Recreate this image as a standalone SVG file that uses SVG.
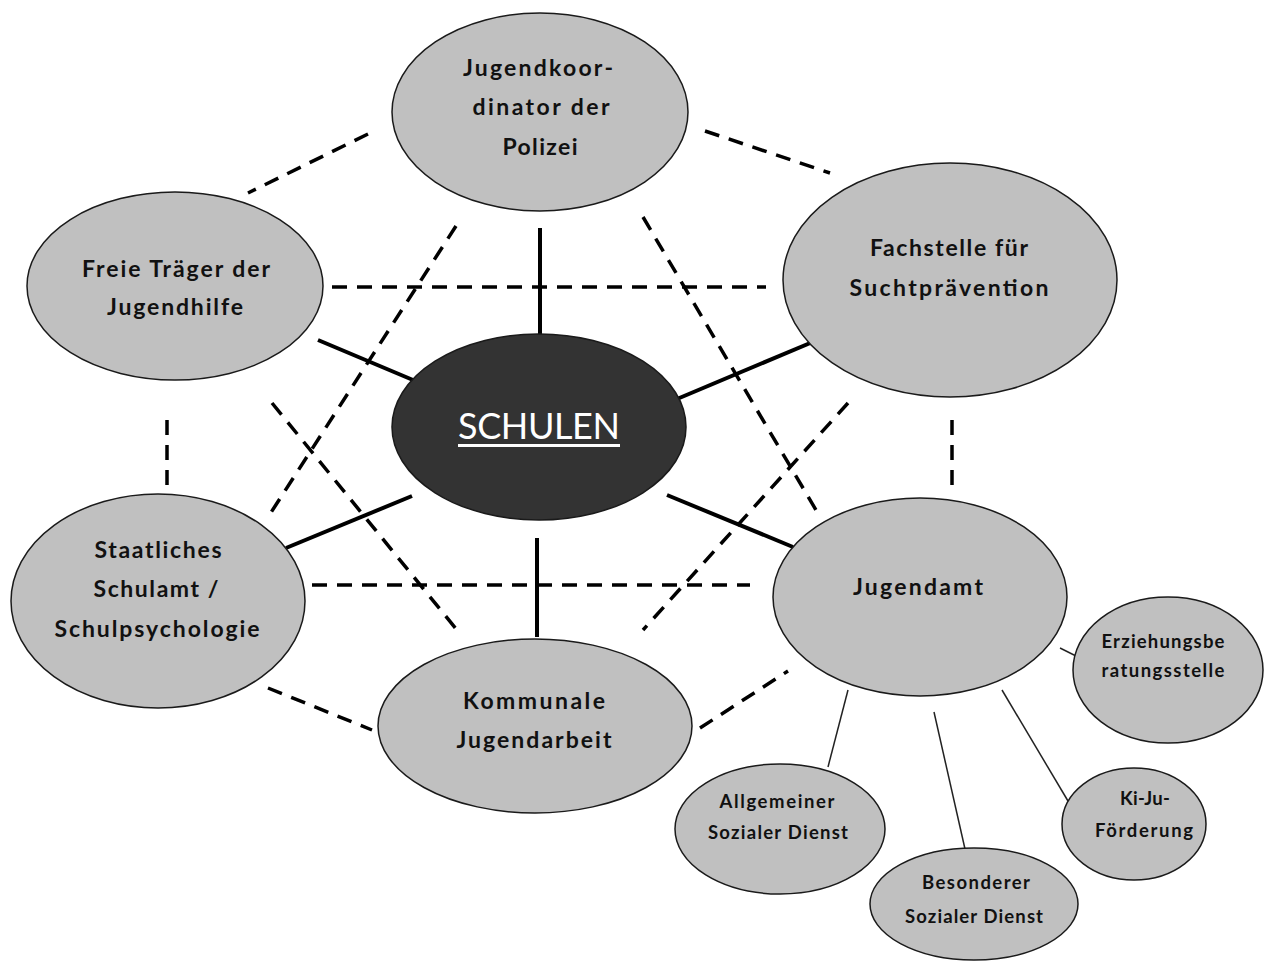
<svg xmlns="http://www.w3.org/2000/svg" width="1270" height="963" viewBox="0 0 1270 963">
  <style>
    .node { fill: #c0c0c0; stroke: #1a1a1a; stroke-width: 1.5; }
    .hub { fill: #333333; stroke: #1a1a1a; stroke-width: 1.5; }
    .lbl { font-family: Lato, "Liberation Sans", sans-serif; font-weight: bold; font-size: 23px; fill: #111; text-anchor: middle; }
    .sm { font-size: 18.5px; }
    .hubtxt { font-family: Lato, "Liberation Sans", sans-serif; font-size: 36px; fill: #ffffff; text-anchor: middle; }
    .solid { stroke: #000; stroke-width: 4; fill: none; }
    .dash { stroke: #000; stroke-width: 3.5; stroke-dasharray: 15 10; fill: none; }
    .thin { stroke: #222; stroke-width: 1.5; fill: none; }
  </style>
  <rect width="1270" height="963" fill="#ffffff"/>

  <!-- connectors -->
  <g id="connectors">
    <!-- solid spokes to the hub -->
    <line class="solid" x1="540" y1="228" x2="540" y2="336"/>
    <line class="solid" x1="318" y1="340" x2="413" y2="380"/>
    <line class="solid" x1="815" y1="341" x2="677" y2="399"/>
    <line class="solid" x1="286" y1="548" x2="412" y2="496"/>
    <line class="solid" x1="793" y1="547" x2="667" y2="495"/>
    <line class="solid" x1="537" y1="637" x2="537" y2="538"/>
    <!-- dashed ring -->
    <line class="dash" x1="368" y1="134" x2="248" y2="193"/>
    <line class="dash" x1="705" y1="131" x2="830" y2="173"/>
    <line class="dash" x1="332" y1="287" x2="766" y2="287"/>
    <line class="dash" x1="167" y1="420" x2="167" y2="487"/>
    <line class="dash" x1="952" y1="420" x2="952" y2="487"/>
    <line class="dash" x1="312" y1="585" x2="750" y2="585"/>
    <line class="dash" x1="268" y1="688" x2="372" y2="730"/>
    <line class="dash" x1="700" y1="728" x2="788" y2="671"/>
    <!-- dashed diagonals -->
    <line class="dash" x1="456" y1="226" x2="270" y2="514"/>
    <line class="dash" x1="643" y1="217" x2="816" y2="510"/>
    <line class="dash" x1="272" y1="403" x2="457" y2="630"/>
    <line class="dash" x1="848" y1="403" x2="643" y2="630"/>
    <!-- thin branches from Jugendamt -->
    <line class="thin" x1="1060" y1="648" x2="1076" y2="656"/>
    <line class="thin" x1="848" y1="690" x2="828" y2="767"/>
    <line class="thin" x1="934" y1="712" x2="965" y2="849"/>
    <line class="thin" x1="1002" y1="690" x2="1068" y2="801"/>
  </g>

  <g id="polizei">
    <ellipse class="node" cx="540" cy="112" rx="148" ry="99"/>
    <text class="lbl" x="538" y="76" textLength="150" lengthAdjust="spacing">Jugendkoor-</text>
    <text class="lbl" x="541" y="115" textLength="137" lengthAdjust="spacing">dinator der</text>
    <text class="lbl" x="540" y="155" textLength="75" lengthAdjust="spacing">Polizei</text>
  </g>

  <g id="freie-traeger">
    <ellipse class="node" cx="175" cy="286" rx="148" ry="94"/>
    <text class="lbl" x="176" y="277" textLength="188" lengthAdjust="spacing">Freie Träger der</text>
    <text class="lbl" x="175" y="315" textLength="136" lengthAdjust="spacing">Jugendhilfe</text>
  </g>

  <g id="suchtpraevention">
    <ellipse class="node" cx="950" cy="280" rx="167" ry="117"/>
    <text class="lbl" x="949" y="256" textLength="158" lengthAdjust="spacing">Fachstelle für</text>
    <text class="lbl" x="949" y="296" textLength="199" lengthAdjust="spacing">Suchtprävention</text>
  </g>

  <g id="schulamt">
    <ellipse class="node" cx="158" cy="601" rx="147" ry="107"/>
    <text class="lbl" x="158" y="558" textLength="127" lengthAdjust="spacing">Staatliches</text>
    <text class="lbl" x="156" y="597" textLength="125" lengthAdjust="spacing">Schulamt /</text>
    <text class="lbl" x="157" y="637" textLength="205" lengthAdjust="spacing">Schulpsychologie</text>
  </g>

  <g id="kommunale">
    <ellipse class="node" cx="535" cy="726" rx="157" ry="87"/>
    <text class="lbl" x="534" y="709" textLength="142" lengthAdjust="spacing">Kommunale</text>
    <text class="lbl" x="534" y="748" textLength="155" lengthAdjust="spacing">Jugendarbeit</text>
  </g>

  <g id="jugendamt">
    <ellipse class="node" cx="920" cy="597" rx="147" ry="99"/>
    <text class="lbl" x="918" y="595" textLength="130" lengthAdjust="spacing">Jugendamt</text>
  </g>

  <g id="erziehungsberatung">
    <ellipse class="node" cx="1168" cy="670" rx="95" ry="73"/>
    <text class="lbl sm" x="1163" y="648" textLength="123" lengthAdjust="spacing">Erziehungsbe</text>
    <text class="lbl sm" x="1163" y="677" textLength="123" lengthAdjust="spacing">ratungsstelle</text>
  </g>

  <g id="asd">
    <ellipse class="node" cx="780" cy="829" rx="105" ry="65"/>
    <text class="lbl sm" x="777" y="808" textLength="115" lengthAdjust="spacing">Allgemeiner</text>
    <text class="lbl sm" x="778" y="839" textLength="140" lengthAdjust="spacing">Sozialer Dienst</text>
  </g>

  <g id="bsd">
    <ellipse class="node" cx="974" cy="904" rx="104" ry="56"/>
    <text class="lbl sm" x="976" y="889" textLength="108" lengthAdjust="spacing">Besonderer</text>
    <text class="lbl sm" x="974" y="923" textLength="138" lengthAdjust="spacing">Sozialer Dienst</text>
  </g>

  <g id="kiju">
    <ellipse class="node" cx="1134" cy="824" rx="72" ry="56"/>
    <text class="lbl sm" x="1145" y="805" textLength="50" lengthAdjust="spacing">Ki-Ju-</text>
    <text class="lbl sm" x="1144" y="837" textLength="98" lengthAdjust="spacing">Förderung</text>
  </g>

  <g id="schulen">
    <ellipse class="hub" cx="539" cy="427" rx="147" ry="93"/>
    <text class="hubtxt" x="539" y="439" textLength="162" lengthAdjust="spacing">SCHULEN</text>
    <line x1="458" y1="445.5" x2="620" y2="445.5" stroke="#ffffff" stroke-width="3"/>
  </g>
</svg>
